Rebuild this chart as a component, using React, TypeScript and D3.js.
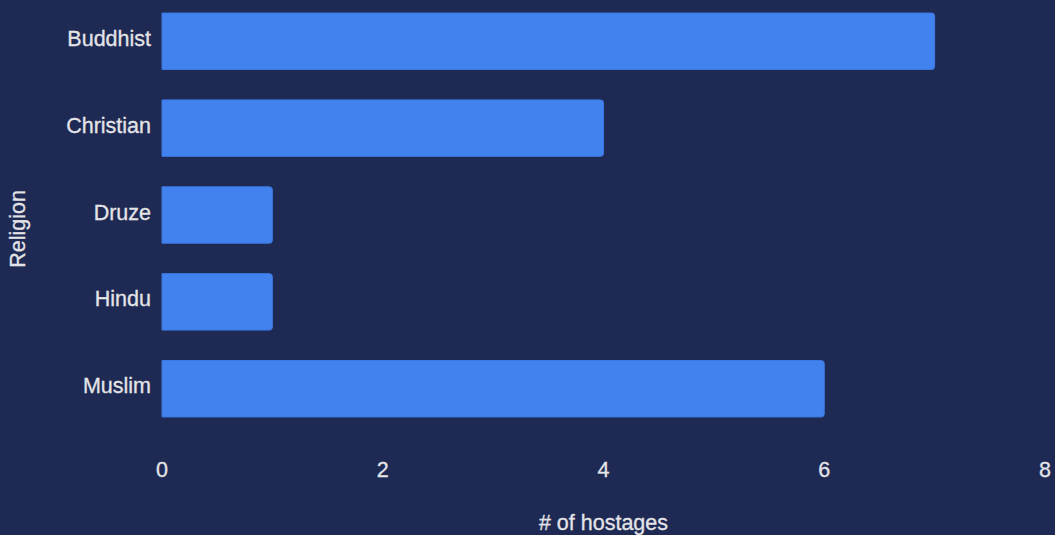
import * as d3 from 'd3';
import { useEffect, useRef } from 'react';

const religions = ['Buddhist', 'Christian', 'Druze', 'Hindu', 'Muslim'];
const hostages = [7, 4, 1, 1, 6];
const xTicks = [0, 2, 4, 6, 8];

const WIDTH = 1055;
const HEIGHT = 535;
const BG = '#1e2a53';
const BAR = '#4182ee';
const TEXT = '#e4e4e8';
const FONT = '"Liberation Sans", Arial, sans-serif';

export default function App() {
  const svgRef = useRef<SVGSVGElement | null>(null);

  useEffect(() => {
    if (!svgRef.current) return;
    const svg = d3.select(svgRef.current);
    svg.selectAll('*').remove();

    svg.append('rect').attr('width', WIDTH).attr('height', HEIGHT).attr('fill', BG);

    const x = d3.scaleLinear().domain([0, 8]).range([162, 1045]);
    const y = d3
      .scaleBand<string>()
      .domain(religions)
      .range([0, 430])
      .paddingInner(0.35)
      .paddingOuter(0.15);

    const r = 3;
    const barPath = (value: number, top: number, h: number) => {
      const x0 = x(0);
      const x1 = x(value);
      return `M${x0},${top}H${x1 - r}Q${x1},${top} ${x1},${top + r}V${top + h - r}Q${x1},${top + h} ${x1 - r},${top + h}H${x0}Z`;
    };

    svg
      .append('g')
      .selectAll('path')
      .data(religions)
      .join('path')
      .attr('d', (d, i) => barPath(hostages[i], y(d)!, y.bandwidth()))
      .attr('fill', BAR)
      .attr('stroke', '#3b78e0')
      .attr('stroke-width', 1);

    // category labels sit a little above the bar centre
    svg
      .append('g')
      .selectAll('text')
      .data(religions)
      .join('text')
      .attr('x', 151)
      .attr('y', (d) => y(d)! + y.bandwidth() / 2 - 3)
      .attr('dy', '0.35em')
      .attr('text-anchor', 'end')
      .attr('fill', TEXT)
      .attr('font-family', FONT)
      .attr('font-size', 21.5)
      .attr('stroke', TEXT)
      .attr('stroke-width', 0.3)
      .text((d) => d);

    svg
      .append('g')
      .selectAll('text')
      .data(xTicks)
      .join('text')
      .attr('x', (d) => x(d))
      .attr('y', 477)
      .attr('text-anchor', 'middle')
      .attr('fill', TEXT)
      .attr('font-family', FONT)
      .attr('font-size', 21.5)
      .attr('stroke', TEXT)
      .attr('stroke-width', 0.3)
      .text((d) => String(d));

    svg
      .append('text')
      .attr('x', x(4))
      .attr('y', 530)
      .attr('text-anchor', 'middle')
      .attr('fill', TEXT)
      .attr('font-family', FONT)
      .attr('font-size', 21.5)
      .attr('stroke', TEXT)
      .attr('stroke-width', 0.3)
      .text('# of hostages');

    svg
      .append('text')
      .attr('transform', `translate(25, ${y.range()[1] / 2 + 14}) rotate(-90)`)
      .attr('text-anchor', 'middle')
      .attr('fill', TEXT)
      .attr('font-family', FONT)
      .attr('font-size', 21.5)
      .attr('stroke', TEXT)
      .attr('stroke-width', 0.3)
      .text('Religion');
  }, []);

  return (
    <svg
      ref={svgRef}
      width={WIDTH}
      height={HEIGHT}
      style={{ position: 'absolute', left: 0, top: 0, display: 'block' }}
    />
  );
}
